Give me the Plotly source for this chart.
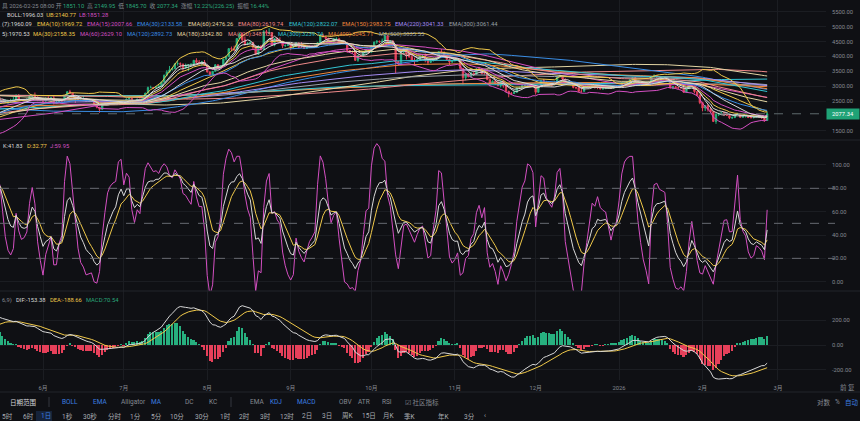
import numpy as np
import pandas as pd
import plotly.graph_objects as go

# ---------------- data ----------------
hist_start = "2024-10-14"   # closes used only to warm up the long averages
close_hist = [
    2630, 2605, 2610, 2605, 2645, 2650, 2745, 2665, 2620, 2525, 2535, 2440, 2490, 2510, 2570, 2640, 2665, 2520,
    2510, 2490, 2455, 2400, 2425, 2720, 2895, 2960, 3130, 3180, 3370, 3245, 3185, 3060, 3100, 3130, 3075, 3210,
    3105, 3070, 3355, 3325, 3400, 3360, 3415, 3325, 3650, 3580, 3590, 3705,
    3705, 3645, 3615, 3835, 3785, 4000, 4005, 3990, 3710, 3630, 3835, 3880, 3905, 3875, 3960, 3985, 3870, 3625,
    3425, 3470, 3310, 3280, 3420, 3490, 3485, 3330, 3335, 3400, 3350, 3360, 3335,
    3355, 3450, 3605, 3660, 3635, 3690, 3380, 3325, 3220, 3265, 3280, 3265, 3135, 3225, 3450, 3310, 3475, 3310,
    3215, 3300, 3320, 3245, 3330, 3320, 3310, 3320, 3185, 3075, 3120, 3250, 3300,
    3100, 2860, 2870, 2730, 2785, 2690, 2615, 2635, 2630, 2660, 2600, 2740, 2675, 2725, 2690, 2660, 2745, 2670,
    2715, 2740, 2660, 2760, 2820, 2500, 2490, 2330, 2305, 2240,
    2215, 2520, 2150, 2175, 2240, 2200, 2140, 2205, 2020, 1865, 1920, 1910, 1865, 1910, 1930, 1885, 1925, 1930,
    2055, 1980, 1965, 1985, 2080, 2080, 2070, 2010, 2005, 1895, 1825, 1800, 1820,
    1905, 1795, 1815, 1815, 1805, 1580, 1555, 1475, 1670, 1520, 1570, 1645, 1595, 1625, 1590, 1575, 1585, 1590,
    1615, 1585, 1580, 1755, 1795, 1770, 1785, 1820, 1795, 1800, 1800, 1795,
]

main_start = "2025-05-01"   # daily candles 2025-05-01 .. 2026-02-25
close_main = [
    1840, 1840, 1835, 1810, 1815, 1815, 1810, 2200, 2345, 2580, 2515, 2495, 2680, 2610, 2545,
    2545, 2480, 2500, 2525, 2525, 2550, 2660, 2530, 2530, 2550, 2565, 2660, 2680, 2635, 2530, 2530,
    2505, 2600, 2595, 2610, 2420, 2480, 2520, 2510, 2680, 2815, 2770, 2645, 2575, 2530, 2540, 2545, 2510, 2525,
    2520, 2405, 2295, 2225, 2410, 2445, 2455, 2415, 2425, 2435, 2500, 2485,
    2405, 2570, 2590, 2505, 2515, 2570, 2540, 2615, 2770, 2955, 2955, 2945, 2970, 3010, 3140, 3370, 3475, 3550,
    3590, 3755, 3760, 3740, 3620, 3700, 3720, 3740, 3870, 3800, 3790, 3810, 3700,
    3480, 3390, 3500, 3720, 3610, 3680, 3910, 3990, 4260, 4250, 4220, 4600, 4760, 4560, 4420, 4440, 4470, 4310,
    4070, 4350, 4230, 4830, 4780, 4790, 4380, 4600, 4510, 4510, 4360, 4370, 4390,
    4310, 4330, 4450, 4300, 4300, 4270, 4300, 4310, 4310, 4350, 4460, 4720, 4660, 4600, 4520, 4500, 4590, 4590,
    4470, 4480, 4450, 4200, 4160, 4150, 3870, 4030, 4010, 4140, 4220, 4140,
    4350, 4480, 4510, 4490, 4510, 4690, 4460, 4520, 4370, 3830, 3750, 4150, 4250, 4120, 3990, 3880, 3830, 3890,
    3980, 3980, 3880, 3800, 3850, 3930, 3950, 4160, 4120, 3980, 3900, 3810, 3850,
    3880, 3900, 3600, 3290, 3420, 3320, 3440, 3400, 3580, 3560, 3420, 3420, 3230, 3100, 3170, 3090, 3020, 3160,
    3020, 2830, 2770, 2760, 2800, 2950, 2960, 3020, 3020, 3030, 2990, 2990,
    2800, 3000, 3190, 3130, 3030, 3060, 3050, 3120, 3320, 3330, 3240, 3080, 3110, 3070, 2960, 2950, 2830, 2830,
    2980, 2980, 2970, 3000, 2960, 2950, 2910, 2920, 2940, 2950, 2940, 2970, 2970,
    3000, 3120, 3120, 3140, 3220, 3290, 3160, 3110, 3090, 3080, 3120, 3090, 3320, 3350, 3310, 3290, 3300, 3300,
    3190, 2950, 2980, 2950, 2950, 2950, 2800, 2920, 3020, 3000, 2820, 2700, 2450,
    2270, 2350, 2230, 2150, 1820, 2060, 2090, 2110, 2100, 2020, 1940, 1950, 2050, 2080, 1960, 1990, 1990, 1950,
    1950, 1960, 1990, 1975, 1955, 1851.10, 2077.34,
]
high_main = [
    1875, 1865, 1850, 1845, 1830, 1830, 1850, 2215, 2440, 2600, 2600, 2735, 2740, 2720, 2645,
    2640, 2560, 2570, 2530, 2580, 2640, 2735, 2740, 2570, 2560, 2590, 2710, 2690, 2790, 2660, 2560,
    2550, 2620, 2660, 2640, 2680, 2530, 2530, 2530, 2690, 2830, 2880, 2780, 2660, 2590, 2560, 2680, 2610, 2540,
    2540, 2560, 2420, 2300, 2420, 2480, 2470, 2520, 2440, 2450, 2510, 2530,
    2490, 2590, 2640, 2600, 2520, 2580, 2580, 2620, 2780, 2990, 3020, 2970, 3000, 3080, 3160, 3390, 3540, 3680,
    3610, 3770, 3860, 3800, 3760, 3760, 3730, 3760, 3880, 3940, 3880, 3850, 3880,
    3720, 3500, 3510, 3740, 3730, 3690, 3920, 4030, 4280, 4330, 4360, 4610, 4790, 4790, 4670, 4480, 4520, 4470,
    4370, 4380, 4370, 4880, 4890, 4950, 4800, 4620, 4640, 4640, 4520, 4400, 4450,
    4400, 4380, 4480, 4460, 4480, 4320, 4320, 4380, 4380, 4390, 4470, 4730, 4770, 4680, 4630, 4530, 4610, 4640,
    4600, 4500, 4490, 4450, 4220, 4200, 4160, 4040, 4040, 4150, 4240, 4240,
    4360, 4500, 4540, 4530, 4600, 4760, 4720, 4530, 4520, 4390, 3860, 4160, 4290, 4260, 4210, 4090, 3960, 3920,
    4030, 4080, 4100, 3910, 3900, 3970, 3960, 4170, 4250, 4170, 4040, 3930, 3870,
    3890, 3910, 3920, 3610, 3440, 3450, 3480, 3460, 3600, 3650, 3600, 3560, 3570, 3240, 3200, 3200, 3180, 3170,
    3180, 3060, 2850, 2800, 2850, 2960, 2980, 3030, 3080, 3070, 3050, 3030,
    3010, 3010, 3210, 3240, 3180, 3070, 3080, 3170, 3330, 3390, 3330, 3260, 3120, 3120, 3130, 2980, 3030, 3000,
    3000, 3000, 3000, 3040, 3010, 2970, 2960, 2970, 2950, 2960, 3040, 2990, 3010,
    3010, 3140, 3140, 3160, 3240, 3310, 3300, 3170, 3150, 3100, 3130, 3160, 3330, 3400, 3370, 3330, 3310, 3330,
    3300, 3200, 3010, 3010, 2980, 2970, 2960, 2930, 3030, 3040, 3010, 2830, 2720,
    2480, 2370, 2400, 2290, 2160, 2100, 2100, 2140, 2130, 2110, 2040, 1990, 2060, 2100, 2100, 2000, 2010, 2020,
    1970, 1980, 2000, 2000, 1980, 1960, 2149.95,
]
low_main = [
    1785, 1825, 1825, 1800, 1785, 1750, 1795, 1805, 2180, 2345, 2460, 2440, 2420, 2560, 2505,
    2510, 2450, 2460, 2400, 2480, 2490, 2540, 2500, 2510, 2460, 2530, 2550, 2600, 2600, 2500, 2500,
    2470, 2490, 2580, 2580, 2390, 2410, 2470, 2490, 2490, 2670, 2740, 2640, 2440, 2500, 2500, 2530, 2470, 2480,
    2490, 2380, 2260, 2110, 2200, 2390, 2400, 2400, 2380, 2410, 2420, 2470,
    2390, 2390, 2560, 2480, 2480, 2500, 2520, 2530, 2600, 2760, 2940, 2910, 2940, 2960, 2970, 3120, 3330, 3450,
    3530, 3580, 3690, 3620, 3510, 3580, 3510, 3700, 3730, 3780, 3720, 3680, 3680,
    3460, 3360, 3360, 3490, 3580, 3600, 3670, 3860, 3980, 4180, 4180, 4200, 4580, 4450, 4360, 4380, 4420, 4220,
    4060, 4060, 4200, 4220, 4700, 4760, 4350, 4340, 4490, 4480, 4280, 4320, 4360,
    4210, 4270, 4320, 4270, 4280, 4260, 4260, 4290, 4290, 4300, 4340, 4450, 4640, 4560, 4480, 4470, 4420, 4560,
    4460, 4460, 4440, 4120, 4140, 4100, 3850, 3820, 3990, 3990, 4080, 4100,
    4130, 4330, 4420, 4460, 4480, 4500, 4450, 4420, 4290, 3440, 3680, 3700, 4080, 3900, 3950, 3850, 3690, 3820,
    3860, 3950, 3800, 3720, 3780, 3840, 3900, 3940, 4100, 3950, 3880, 3710, 3790,
    3840, 3850, 3560, 3060, 3200, 3300, 3280, 3350, 3380, 3530, 3400, 3400, 3200, 3000, 3100, 3050, 3000, 2960,
    2950, 2800, 2630, 2700, 2750, 2780, 2900, 2930, 3000, 2990, 2980, 2970,
    2720, 2790, 2990, 3100, 3010, 3010, 2990, 3040, 3100, 3290, 3190, 3060, 3070, 3050, 2930, 2900, 2800, 2780,
    2820, 2960, 2950, 2960, 2920, 2900, 2900, 2890, 2910, 2920, 2910, 2920, 2950,
    2960, 2990, 3090, 3100, 3120, 3200, 3150, 3060, 3070, 3070, 3070, 3060, 3080, 3300, 3280, 3260, 3270, 3280,
    3170, 2920, 2900, 2930, 2900, 2930, 2780, 2790, 2900, 2980, 2760, 2660, 2400,
    2160, 2170, 2150, 2100, 1800, 1740, 2000, 2060, 2000, 2000, 1900, 1900, 1930, 2040, 1950, 1950, 1950, 1940,
    1920, 1920, 1950, 1960, 1900, 1810, 1845.70,
]

month_ticks = ["2025-06-01", "2025-07-01", "2025-08-01", "2025-09-01", "2025-10-01",
               "2025-11-01", "2025-12-01", "2026-01-01", "2026-02-01", "2026-03-01"]
month_labels = ["6月", "7月", "8月", "9月", "10月", "11月", "12月", "2026", "2月", "3月"]
price_ticks = [1500, 2500, 3000, 3500, 4000, 4500, 5000, 5500]
kdj_ticks = [0, 20, 40, 60, 80, 100]
kdj_levels = [20, 50, 80]
macd_ticks = [-200, 0, 200]

ema_periods = [7, 10, 15, 30, 60, 80, 120, 150, 220, 300]
ma_periods = [5, 30, 60, 120, 180, 220, 300, 400, 500]

assert len(close_hist) == 199
assert len(close_main) == len(high_main) == len(low_main) == 301

# ---------------- styles ----------------
BG = "#0f1014"
GRID = "#1b1d22"
TXT = "#858991"
UP = "#27b07f"
DN = "#e6405a"
WHITE = "#d8d8d8"
YEL = "#f0c94a"
MAG = "#d44fc2"
BLUE = "#3a8ee6"
CREAM = "#e3d5a3"
SALMON = "#f08a8a"
CYAN = "#33c6d4"
ORANGE = "#f0883e"
LAV = "#a58cf5"
GRAY = "#9aa0a8"
palette = [WHITE, YEL, MAG, BLUE, CREAM, SALMON, CYAN, ORANGE, LAV, GRAY]
FONT = "Roboto, 'Noto Sans CJK SC', sans-serif"
FS = 5.8
TBS = 6.5
W, H = 860, 421
PLOT_R = 826 / W

# ---------------- indicators ----------------
dates_all = pd.date_range(hist_start, periods=len(close_hist) + len(close_main), freq="D")
s = pd.Series(close_hist + close_main, index=dates_all, dtype=float)
dates_main = pd.date_range(main_start, periods=len(close_main), freq="D")
open_main = [close_hist[-1]] + close_main[:-1]

emas = {n: s.ewm(span=n, adjust=False).mean().loc[dates_main] for n in ema_periods}
mas = {n: s.rolling(n, min_periods=1).mean().loc[dates_main] for n in ma_periods}
mid = s.rolling(20, min_periods=1).mean()
sd = s.rolling(20, min_periods=1).std(ddof=0)
boll_mid = mid.loc[dates_main]
boll_ub = (mid + 2 * sd).loc[dates_main]
boll_lb = (mid - 2 * sd).loc[dates_main]

c = pd.Series(close_main, dtype=float)
hh = pd.Series(high_main, dtype=float).rolling(9, min_periods=1).max()
ll = pd.Series(low_main, dtype=float).rolling(9, min_periods=1).min()
rsv = ((c - ll) / (hh - ll) * 100).fillna(50)
K, D = [], []
k = d = 50.0
for r in rsv:
    k = 2 / 3 * k + r / 3
    d = 2 / 3 * d + k / 3
    K.append(k)
    D.append(d)
K = np.array(K)
D = np.array(D)
J = 3 * K - 2 * D

dif_all = s.ewm(span=12, adjust=False).mean() - s.ewm(span=26, adjust=False).mean()
dea_all = dif_all.ewm(span=9, adjust=False).mean()
dif = dif_all.loc[dates_main]
dea = dea_all.loc[dates_main]
hist = 2 * (dif - dea)

# ---------------- figure ----------------
fig = go.Figure()

fig.add_trace(go.Candlestick(
    x=dates_main, open=open_main, high=high_main, low=low_main, close=close_main,
    increasing=dict(line=dict(color=UP, width=1), fillcolor=UP),
    decreasing=dict(line=dict(color=DN, width=1), fillcolor=DN),
    whiskerwidth=0, xaxis="x", yaxis="y", showlegend=False, hoverinfo="skip"))

def line(x, y, color, xa="x", ya="y", width=1):
    fig.add_trace(go.Scatter(x=x, y=y, mode="lines", line=dict(color=color, width=width),
                             xaxis=xa, yaxis=ya, showlegend=False, hoverinfo="skip"))

ma_cols = [WHITE, YEL, MAG, BLUE, CREAM, SALMON, CYAN, ORANGE, GRAY]
for n, col in reversed(list(zip(ma_periods, ma_cols))):
    line(dates_main, mas[n], col)
for n, col in reversed(list(zip(ema_periods, palette))):
    line(dates_main, emas[n], col)
line(dates_main, boll_ub, YEL)
line(dates_main, boll_lb, MAG)
line(dates_main, boll_mid, WHITE)

# KDJ
line(dates_main, J, MAG, "x2", "y2")
line(dates_main, D, YEL, "x2", "y2")
line(dates_main, K, WHITE, "x2", "y2")

# MACD
fig.add_trace(go.Bar(x=dates_main, y=hist, marker=dict(color=[UP if v >= 0 else DN for v in hist], line=dict(width=0)),
                     width=0.6 * 86400000, xaxis="x3", yaxis="y3", showlegend=False, hoverinfo="skip"))
line(dates_main, dea, YEL, "x3", "y3")
line(dates_main, dif, WHITE, "x3", "y3")

# ---------------- layout ----------------
px_per_day = 2.692
x0 = pd.Timestamp(month_ticks[0]) - pd.Timedelta(days=43 / px_per_day)
x1 = pd.Timestamp(month_ticks[0]) + pd.Timedelta(days=(826 - 43) / px_per_day)

def dom(top_px, bot_px):
    return [1 - bot_px / H, 1 - top_px / H]

xcommon = dict(range=[x0, x1], domain=[0, PLOT_R], showgrid=True, gridcolor=GRID, gridwidth=1,
               tickvals=month_ticks, ticktext=month_labels, zeroline=False, showline=False,
               tickfont=dict(size=FS, color=TXT, family=FONT), ticks="")
ycommon = dict(side="right", showgrid=True, gridcolor=GRID, zeroline=False, showline=False,
               tickfont=dict(size=FS, color=TXT, family=FONT), ticks="", ticklabelstandoff=5)

fig.update_layout(
    width=W, height=H, autosize=False,
    margin=dict(l=0, r=0, t=0, b=0),
    paper_bgcolor=BG, plot_bgcolor=BG,
    font=dict(family=FONT, size=FS, color=TXT),
    bargap=0, showlegend=False,
    xaxis=dict(**xcommon, anchor="y", showticklabels=False, rangeslider=dict(visible=False)),
    xaxis2=dict(**xcommon, anchor="y2", matches="x", showticklabels=False),
    xaxis3=dict(**xcommon, anchor="y3", matches="x", showticklabels=True, ticklabelstandoff=3),
    yaxis=dict(**ycommon, anchor="x", domain=dom(0, 140), range=[1198, 5892],
               tickvals=price_ticks, ticktext=[f"{v:.2f}" for v in price_ticks]),
    yaxis2=dict(**ycommon, anchor="x2", domain=dom(140, 291), range=[-7.97, 121.4],
                tickvals=kdj_ticks, ticktext=[f"{v:.2f}" for v in kdj_ticks]),
    yaxis3=dict(**ycommon, anchor="x3", domain=dom(291, 380), range=[-284.6, 439],
                tickvals=macd_ticks, ticktext=[f"{v:.2f}" for v in macd_ticks]),
)

shapes = []
last = close_main[-1]
shapes.append(dict(type="line", xref="paper", yref="y", x0=0, x1=PLOT_R, y0=last, y1=last,
                   line=dict(color="#5d6a6c", width=1, dash="dash")))
for lv in kdj_levels:
    shapes.append(dict(type="line", xref="paper", yref="y2", x0=0, x1=835 / W, y0=lv, y1=lv,
                       line=dict(color="#676a71", width=1, dash="dash")))
for ypx in (140, 291, 392):
    shapes.append(dict(type="line", xref="paper", yref="paper", x0=0, x1=1, y0=1 - ypx / H, y1=1 - ypx / H,
                       line=dict(color="#22252b", width=1)))
for xpx in (49, 231):
    shapes.append(dict(type="line", xref="paper", yref="paper", x0=xpx / W, x1=xpx / W,
                       y0=1 - 397 / H, y1=1 - 407 / H, line=dict(color="#34373e", width=1)))
shapes.append(dict(type="rect", xref="paper", yref="paper", x0=36 / W, x1=52 / W, y0=0, y1=1 - 411 / H,
                   fillcolor="#16233a", line=dict(width=0), layer="below"))
fig.update_layout(shapes=shapes)

ann = []
def text(xpx, ypx, t, color=TXT, size=FS, anchor="left"):
    ann.append(dict(x=xpx / W, y=1 - ypx / H, xref="paper", yref="paper", text=t, showarrow=False,
                    xanchor=anchor, yanchor="middle", font=dict(size=size, color=color, family=FONT)))

def sp(t, col):
    return f"<span style='color:{col}'>{t}</span>"

G = "#2aa87b"
NB = "\u00a0"
row1 = (f"具 2026-02-25 08:00 开{NB}{sp('1851.10', G)}{NB} 高{NB}{sp('2149.95', G)}{NB} 低{NB}{sp('1845.70', G)}"
        f"{NB} 收{NB}{sp('2077.34', G)}{NB} 涨幅{NB}{sp('12.22%(226.25)', G)}{NB} 振幅{NB}{sp('16.44%', G)}")
text(0, 6, row1)
text(5, 15.3, f"{sp('BOLL:1996.03', WHITE)}{NB} {sp('UB:2140.77', YEL)}{NB} {sp('LB:1851.28', MAG)}")

ema_labels = ["(7):1960.09", "EMA(10):1969.72", "EMA(15):2007.66", "EMA(30):2133.58", "EMA(60):2476.26",
              "EMA(80):2619.74", "EMA(120):2822.07", "EMA(150):2983.75", "EMA(220):3041.33", "EMA(300):3061.44"]
ema_x = [0, 35, 85, 135, 186, 236, 287, 340, 393, 447]
for t, xp, col in zip(ema_labels, ema_x, palette):
    text(xp, 24.5, t, col)
ma_labels = ["5):1970.53", "MA(30):2158.35", "MA(60):2629.10", "MA(120):2892.73", "MA(180):3342.80",
             "MA(220):3481.32", "MA(300):3239.74", "MA(400):3045.71", "MA(500):3035.55"]
ma_x = [0, 31, 78, 125, 175, 226, 276, 326, 377]
for t, xp, col in zip(ma_labels, ma_x, ma_cols):
    text(xp, 34.3, t, col)

text(1, 146, "K:41.83", WHITE)
text(25, 146, "D:32.77", YEL)
text(48, 146, "J:59.95", MAG)
text(0, 300, "6,9)", TXT)
text(14, 300, "DIF:-153.38", WHITE)
text(48, 300, "DEA:-188.66", YEL)
text(84, 300, "MACD:70.54", G)

# last price tag
ann.append(dict(x=PLOT_R, y=last, xref="paper", yref="y", text=f"{last:.2f}", showarrow=False,
                xanchor="left", yanchor="middle", bgcolor="#1fa276", width=32, height=10, borderpad=0,
                font=dict(size=FS, color="#ffffff", family=FONT)))

# toolbar
BL = "#3b7fe0"
tb1 = [(8, "日期范围", "#d5d7db"), (60, "BOLL", BL), (91, "EMA", BL), (119, "Alligator", TXT), (149, "MA", BL),
       (183, "DC", TXT), (207, "KC", TXT), (248, "EMA", TXT), (268, "KDJ", BL), (295, "MACD", BL),
       (337, "OBV", TXT), (356, "ATR", TXT), (380, "RSI", TXT), (403, "☑ 社区指标", TXT),
       (815, "对数", TXT), (833, "%", TXT), (843, "自动", BL)]
for xp, t, col in tb1:
    text(xp, 402, t, col, TBS)
tb2 = [(0, "5时"), (21, "6时"), (39, "1日"), (60, "1秒"), (81, "30秒"), (106, "分时"), (128, "1分"), (149, "5分"),
       (168, "10分"), (193, "30分"), (218, "1时"), (237, "2时"), (258, "3时"), (278, "12时"), (300, "2日"),
       (320, "3日"), (340, "周K"), (360, "15日"), (381, "月K"), (402, "季K"), (436, "年K"), (462, "3分"), (482, "‹")]
for xp, t in tb2:
    text(xp, 416, t, BL if t == "1日" else "#a9acb2", TBS)
text(838, 387, "前 复", TXT, TBS)

fig.update_layout(annotations=ann)
fig.write_html("out.html")
